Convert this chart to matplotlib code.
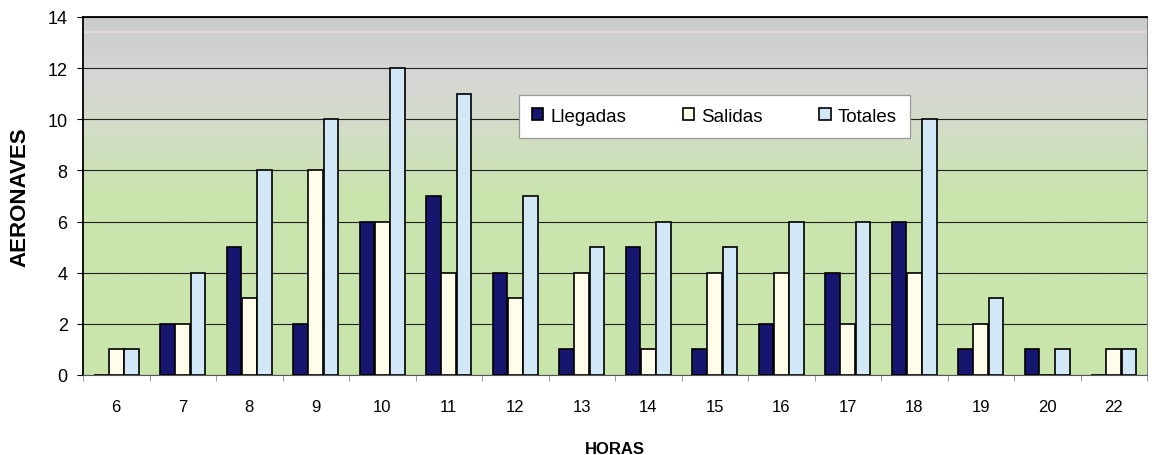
import numpy as np
import matplotlib.pyplot as plt
from matplotlib.colors import LinearSegmentedColormap

horas = ["6", "7", "8", "9", "10", "11", "12", "13", "14", "15", "16", "17", "18", "19", "20", "22"]
llegadas = [0, 2, 5, 2, 6, 7, 4, 1, 5, 1, 2, 4, 6, 1, 1, 0]
salidas = [1, 2, 3, 8, 6, 4, 3, 4, 1, 4, 4, 2, 4, 2, 0, 1]
totales = [1, 4, 8, 10, 12, 11, 7, 5, 6, 5, 6, 6, 10, 3, 1, 1]

plt.rcParams['font.family'] = ['Liberation Sans', 'DejaVu Sans']

fig = plt.figure(figsize=(11.56, 4.56), dpi=100)
ax = fig.add_axes([83 / 1156, 1 - 376 / 456, 1064 / 1156, 358 / 456])

x = np.arange(len(horas))
n = len(horas)

# background: grey at the top fading into light green
cmap = LinearSegmentedColormap.from_list(
    "bg", [(0.0, "#c9e6ab"), (0.5, "#c9e4ad"), (0.7, "#d3dcc8"), (0.84, "#d6d6d6"), (1.0, "#cbcbcb")])
grad = np.linspace(0, 1, 256).reshape(-1, 1)
ax.imshow(grad, extent=[-0.5, n - 0.5, 0, 14], origin="lower", aspect="auto", cmap=cmap, zorder=0)
ax.axhline(13.4, color="#ecdada", lw=1.2, zorder=1)

ax.set_ylim(0, 14)
ax.set_xlim(-0.5, n - 0.5)
ax.yaxis.grid(True, color="#222222", lw=0.8, zorder=1)
ax.set_axisbelow(True)

w = 0.22
ax.bar(x - 0.23, llegadas, w, color="#16166e", edgecolor="black", lw=1.2, label="Llegadas", zorder=3)
ax.bar(x, salidas, w, color="#fffde9", edgecolor="black", lw=1.2, label="Salidas", zorder=3)
ax.bar(x + 0.23, totales, w, color="#d2e8f6", edgecolor="black", lw=1.2, label="Totales", zorder=3)

ax.set_yticks(range(0, 15, 2))
ax.set_xticks(x)
ax.set_xticklabels(horas)
ax.set_xticks(np.arange(-0.5, n, 1), minor=True)
ax.tick_params(axis="x", which="major", length=0, pad=17, labelsize=12)
ax.tick_params(axis="x", which="minor", length=4, color="#888888")
ax.tick_params(axis="y", length=4, labelsize=13, pad=7)

for s in ["left", "top"]:
    ax.spines[s].set_color("black")
    ax.spines[s].set_linewidth(1.3)
ax.spines["right"].set_color("#888888")
ax.spines["bottom"].set_color("#555555")

ax.set_xlabel("HORAS", fontsize=12, fontweight="bold", labelpad=20)
ax.set_ylabel("AERONAVES", fontsize=16, fontweight="bold", labelpad=12)

leg = ax.legend(loc="center", bbox_to_anchor=(0.5935, 0.722), ncol=3, frameon=True, fancybox=False,
                fontsize=13.5, handlelength=0.6, handleheight=0.6, handletextpad=0.4,
                columnspacing=3.0, borderpad=0.7, borderaxespad=0,
                facecolor="white", framealpha=1, edgecolor="#999999")
leg.get_frame().set_linewidth(0.9)

plt.savefig("out.png", dpi=100)
